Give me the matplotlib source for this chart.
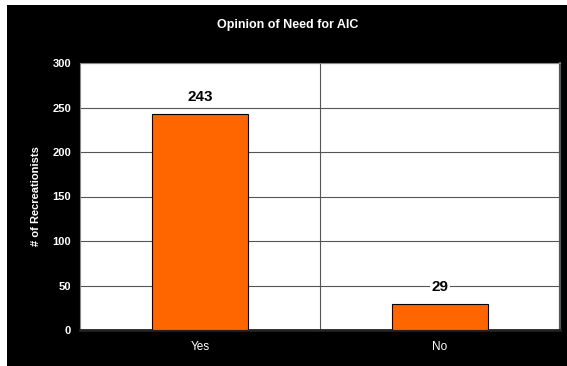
import matplotlib.pyplot as plt
from matplotlib.patches import Rectangle

plt.rcParams['font.family'] = ['Liberation Sans', 'DejaVu Sans']

# Survey answers
answers = ['Yes', 'No']
counts = [243, 29]
y_ticks = [0, 50, 100, 150, 200, 250, 300]

fig = plt.figure(figsize=(5.67, 3.66), dpi=100, facecolor='white')
# black chart background, leaving a thin white margin on left and top
fig.patches.append(Rectangle((7 / 567, 0), 1, 361 / 366, transform=fig.transFigure,
                             facecolor='black', edgecolor='none', zorder=-5))

ax = fig.add_axes([80 / 567, 36 / 366, 480 / 567, 267 / 366])
ax.set_facecolor('white')

x = range(len(answers))
ax.bar(x, counts, width=0.4, color='#FF6600', edgecolor='black', linewidth=0.8, zorder=3)

ax.set_xlim(-0.5, len(answers) - 0.5)
ax.set_ylim(0, 300)
ax.set_yticks(y_ticks)
ax.set_xticks(list(x))
ax.set_xticklabels(answers)
ax.yaxis.grid(True, color='#555555', linewidth=0.8, zorder=0)
ax.axvline(0.5, color='#555555', linewidth=0.8, zorder=0)
ax.set_axisbelow(True)

ax.tick_params(axis='both', length=0, colors='white')
ax.tick_params(axis='y', pad=6.5, labelsize=8)
ax.tick_params(axis='x', pad=8, labelsize=8.5)
for lbl in ax.get_yticklabels():
    lbl.set_fontweight('bold')

for side in ['top', 'left']:
    ax.spines[side].set_color('#888888')
    ax.spines[side].set_linewidth(0.8)
ax.spines['right'].set_color('#555555')
ax.spines['right'].set_linewidth(1.6)
ax.spines['bottom'].set_color('#222222')
ax.spines['bottom'].set_linewidth(2)

# value labels above bars, boxed in white so they sit over the gridlines
for xi, c in zip(x, counts):
    ax.text(xi, c + 19, str(c), ha='center', va='center', fontsize=11,
            fontweight='bold', color='black', zorder=4,
            bbox=dict(facecolor='white', edgecolor='none', pad=1))

ax.set_ylabel('# of Recreationists', color='white', fontsize=8, fontweight='bold', labelpad=8)
fig.text(0.508, 1 - 25 / 366, 'Opinion of Need for AIC', color='white', fontsize=9,
         fontweight='bold', ha='center', va='center')

fig.savefig('out.png', dpi=100, facecolor=fig.get_facecolor())
